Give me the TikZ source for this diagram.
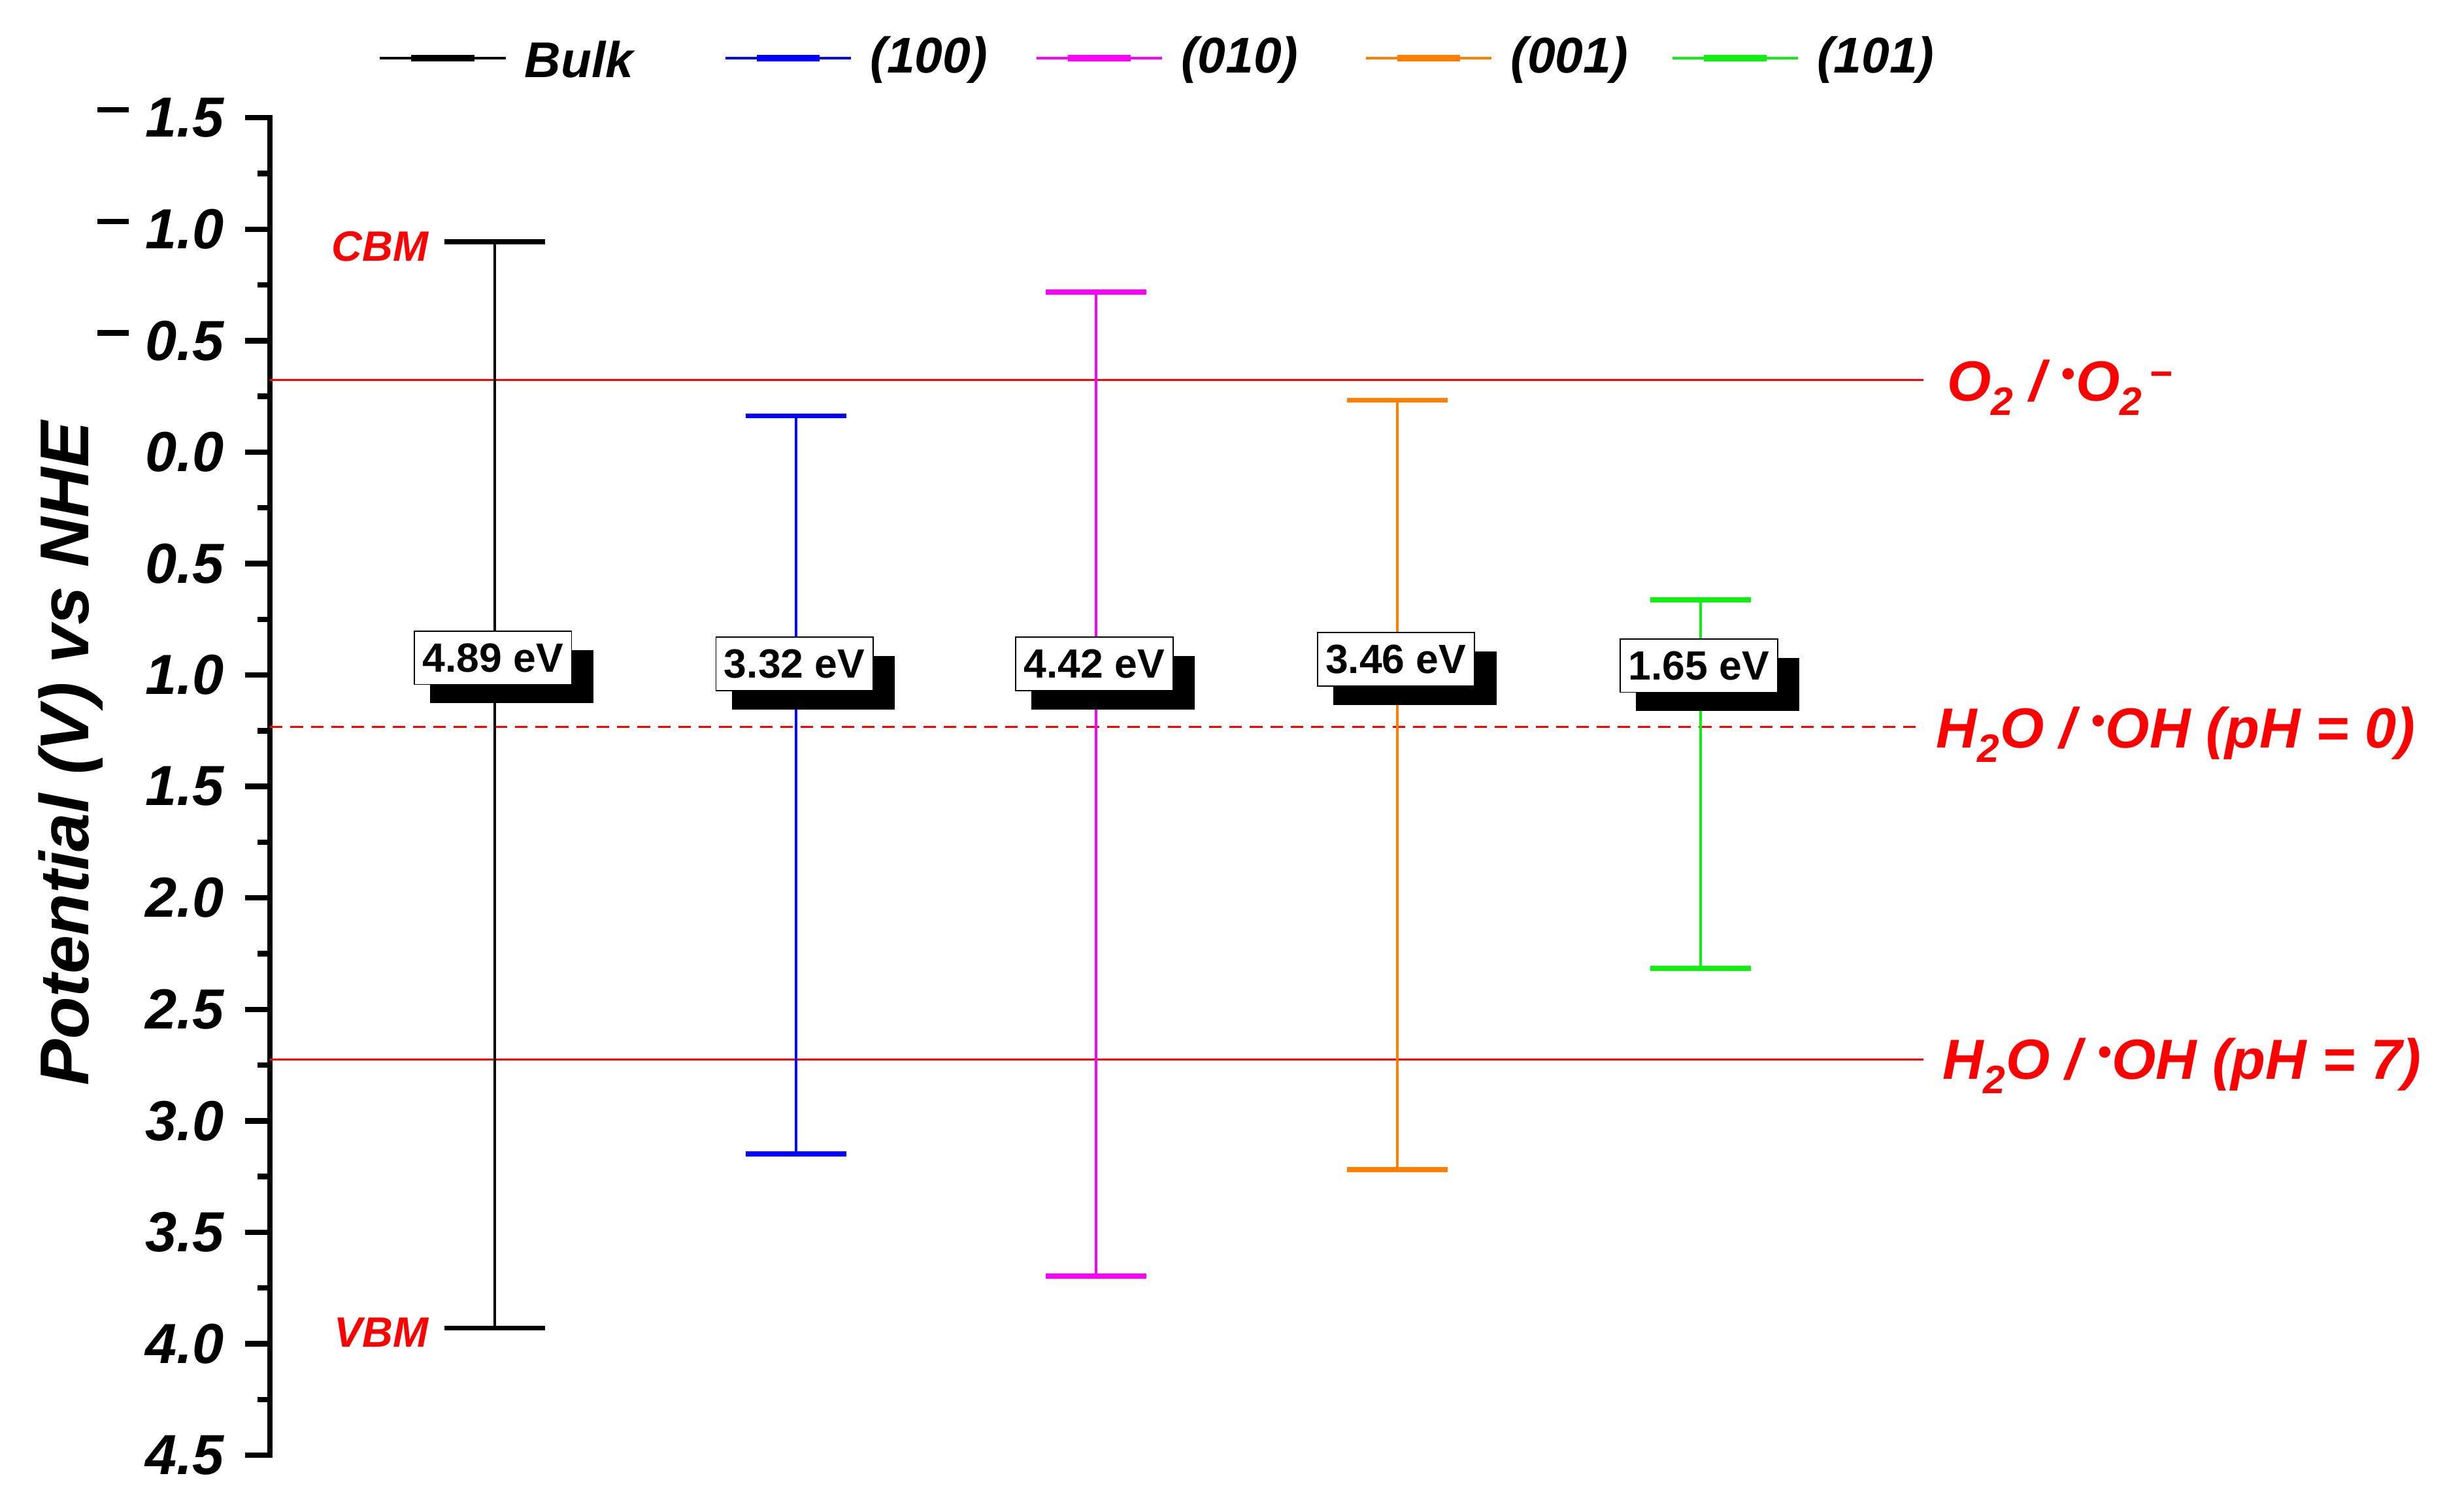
\documentclass[tikz,border=0pt]{standalone}
\usepackage{fontspec}
\setmainfont{Liberation Sans}
\definecolor{cblue}{HTML}{0000FF}
\definecolor{cmag}{HTML}{FF00FF}
\definecolor{corange}{HTML}{FF8000}
\definecolor{cgreen}{HTML}{11EE11}
\definecolor{cred}{HTML}{FF0000}
\tikzset{
 lab/.style={font=\fontsize{36}{40}\selectfont\bfseries\itshape, inner sep=0pt},
 rlab/.style={font=\fontsize{36}{40}\selectfont\bfseries\itshape, text=cred, inner sep=0pt},
 bar/.style={line width=1.6pt},
 capline/.style={line width=3.2pt},
 gapbox/.style={draw=black, line width=0.8pt, fill=white, font=\fontsize{26}{30}\selectfont\bfseries, inner sep=2pt, minimum width=100pt, minimum height=34pt},
 leg/.style={font=\fontsize{32}{36}\selectfont\bfseries\itshape, inner sep=0pt, anchor=west},
}
\newcommand{\vy}[1]{75+(#1+1.5)*142}
\begin{document}
\begin{tikzpicture}[x=1pt,y=-1pt]
\useasboundingbox (0,0) rectangle (1568,963);
% axis
\draw[line width=3.5pt] (156,75) -- (172,75) -- (172,927) -- (156,927);
\foreach \v/\t/\m in {-1.5/1.5/1,-1.0/1.0/1,-0.5/0.5/1,0.0/0.0/0,0.5/0.5/0,1.0/1.0/0,1.5/1.5/0,2.0/2.0/0,2.5/2.5/0,3.0/3.0/0,3.5/3.5/0,4.0/4.0/0,4.5/4.5/0}{
  \draw[line width=3.5pt] (156,{\vy{\v}}) -- (172,{\vy{\v}});
  \node[lab, anchor=east] (t\t\m) at (143,{\vy{\v}}) {\t};
  \ifnum\m=1 \draw[line width=3.5pt] (62,{\vy{\v}-5}) -- (82,{\vy{\v}-5}); \fi
}
\foreach \v in {-1.25,-0.75,...,4.25}{
  \draw[line width=3.5pt] (164,{\vy{\v}}) -- (172,{\vy{\v}});
}
\node[lab, font=\fontsize{44}{48}\selectfont\bfseries\itshape, rotate=90] (ylab) at (45,480) {Potential (V) vs NHE};
% reference lines
\coordinate (l1a) at (172,242); \coordinate (l1b) at (1225,242);
\coordinate (l2a) at (172,463); \coordinate (l2b) at (1225,463);
\coordinate (l3a) at (172,675); \coordinate (l3b) at (1225,675);
\draw[cred, line width=1.5pt] (l1a) -- (l1b);
\draw[cred, line width=1.5pt, dash pattern=on 8pt off 5pt] (l2a) -- (l2b);
\draw[cred, line width=1.5pt] (l3a) -- (l3b);
\node[rlab, anchor=west] (r1) at (1240,247) {O\textsubscript{2} / \textsuperscript{\textbullet}O\textsubscript{2}\textsuperscript{\,−}};
\node[rlab, anchor=west] (r2) at (1233,468) {H\textsubscript{2}O / \textsuperscript{\textbullet}OH (pH = 0)};
\node[rlab, anchor=west] (r3) at (1237,679) {H\textsubscript{2}O / \textsuperscript{\textbullet}OH (pH = 7)};
% bars
\foreach \n/\x/\a/\b/\c/\g/\by in {bulk/315/154/846/black/4.89/419,s100/507/265/735/cblue/3.32/423,s010/698/186/813/cmag/4.42/423,s001/890/255/745/corange/3.46/420,s101/1083/382/617/cgreen/1.65/424}{
  \draw[bar, \c] (\x,\a) -- (\x,\b);
  \draw[capline, \c] (\x-32,\a) -- (\x+32,\a);
  \draw[capline, \c] (\x-32,\b) -- (\x+32,\b);
  \fill[black] (\x-41,\by-5) rectangle (\x+63,\by+29);
  \node[gapbox] (g\n) at (\x-1,\by) {\g\ eV};
}
\node[rlab, font=\fontsize{27}{30}\selectfont\bfseries\itshape, anchor=east] (cbm) at (273,157) {CBM};
\node[rlab, font=\fontsize{27}{30}\selectfont\bfseries\itshape, anchor=east] (vbm) at (273,849) {VBM};
% legend
\foreach \x/\c/\t in {242/black/Bulk,462/cblue/(100),660/cmag/(010),870/corange/(001),1065/cgreen/(101)}{
  \draw[line width=1.6pt, \c] (\x,37) -- (\x+80,37);
  \draw[line width=4pt, \c] (\x+20,37) -- (\x+60,37);
  \node[leg] (L\x) at (\x+92,38) {\t};
}
\end{tikzpicture}
\end{document}
